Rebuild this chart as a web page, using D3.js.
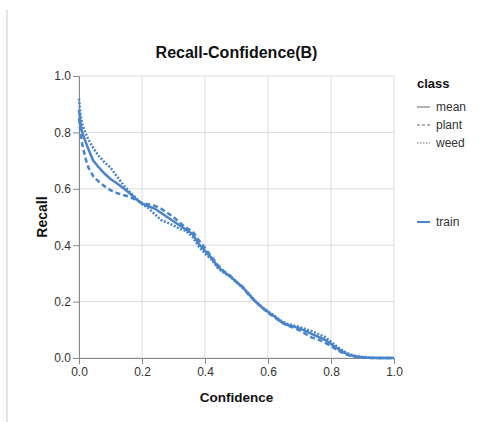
<!DOCTYPE html>
<html>
<head>
<meta charset="utf-8">
<script src="https://cdn.jsdelivr.net/npm/d3@7"></script>
<style>
  body { margin: 0; background: #fff; font-family: "Liberation Sans", Helvetica, Arial, sans-serif; }
  .tick text { font-size: 12px; fill: #333; }
</style>
</head>
<body>
<script>
// Chart data
var confidence = [0, 0.005, 0.01, 0.02, 0.03, 0.045, 0.06, 0.08, 0.1, 0.12, 0.14, 0.16, 0.18, 0.2,
  0.22, 0.24, 0.26, 0.28, 0.3, 0.32, 0.34, 0.36, 0.38, 0.4, 0.42, 0.44, 0.46, 0.48, 0.5, 0.52,
  0.54, 0.56, 0.58, 0.6, 0.62, 0.64, 0.66, 0.68, 0.7, 0.72, 0.74, 0.76, 0.78, 0.8, 0.82, 0.84,
  0.86, 0.88, 0.9, 0.92, 0.95, 1.0];

var recallMean = [0.88, 0.83, 0.80, 0.77, 0.74, 0.70, 0.68, 0.655, 0.635, 0.62, 0.603, 0.585, 0.565, 0.548,
  0.538, 0.53, 0.515, 0.5, 0.485, 0.47, 0.455, 0.44, 0.405, 0.38, 0.355, 0.325, 0.305, 0.29, 0.27, 0.25,
  0.225, 0.2, 0.18, 0.163, 0.148, 0.13, 0.118, 0.112, 0.105, 0.095, 0.085, 0.075, 0.065, 0.05, 0.034, 0.02,
  0.01, 0.005, 0.003, 0.001, 0, 0];

var recallPlant = [0.85, 0.80, 0.76, 0.71, 0.675, 0.645, 0.628, 0.61, 0.595, 0.585, 0.578, 0.572, 0.56, 0.55,
  0.545, 0.54, 0.53, 0.515, 0.5, 0.48, 0.462, 0.45, 0.418, 0.39, 0.36, 0.33, 0.308, 0.292, 0.27, 0.252,
  0.222, 0.2, 0.18, 0.16, 0.145, 0.128, 0.115, 0.108, 0.098, 0.085, 0.072, 0.065, 0.055, 0.042, 0.028, 0.016,
  0.008, 0.004, 0.002, 0, 0, 0];

var recallWeed = [0.92, 0.86, 0.83, 0.80, 0.775, 0.745, 0.72, 0.695, 0.675, 0.645, 0.615, 0.59, 0.568, 0.545,
  0.532, 0.51, 0.49, 0.48, 0.47, 0.458, 0.45, 0.43, 0.395, 0.37, 0.35, 0.32, 0.302, 0.288, 0.268, 0.248,
  0.228, 0.202, 0.182, 0.165, 0.15, 0.133, 0.122, 0.116, 0.11, 0.102, 0.095, 0.085, 0.075, 0.058, 0.04, 0.024,
  0.013, 0.007, 0.004, 0.002, 0, 0];

var classNames = ["mean", "plant", "weed"];
var runNames = ["train"];
var tickValues = [0, 0.2, 0.4, 0.6, 0.8, 1.0];

var svgWidth = 493;
var svgHeight = 422;
var margin = { top: 76, left: 79 };
var chartWidth = 315;
var chartHeight = 282;
var blue = "#4a84cc";
var dashes = { mean: null, plant: "5,3", weed: "2,1.6" };

var svg = d3.select("body").append("svg")
  .attr("width", svgWidth)
  .attr("height", svgHeight);

// left border of the panel
svg.append("line")
  .attr("x1", 7).attr("x2", 7)
  .attr("y1", 10).attr("y2", svgHeight)
  .attr("stroke", "#ddd")
  .attr("stroke-width", 1.5);

var chartGroup = svg.append("g")
  .attr("transform", `translate(${margin.left}, ${margin.top})`);

var xScale = d3.scaleLinear().domain([0, 1]).range([0, chartWidth]);
var yScale = d3.scaleLinear().domain([0, 1]).range([chartHeight, 0]);

// grid
chartGroup.append("g")
  .selectAll("line.vgrid")
  .data(tickValues)
  .enter().append("line")
  .attr("x1", d => xScale(d)).attr("x2", d => xScale(d))
  .attr("y1", 0).attr("y2", chartHeight)
  .attr("stroke", "#ddd");

chartGroup.append("g")
  .selectAll("line.hgrid")
  .data(tickValues)
  .enter().append("line")
  .attr("x1", 0).attr("x2", chartWidth)
  .attr("y1", d => yScale(d)).attr("y2", d => yScale(d))
  .attr("stroke", "#ddd");

// axes
var bottomAxis = d3.axisBottom(xScale).tickValues(tickValues).tickFormat(d3.format(".1f")).tickSize(6).tickPadding(3);
var leftAxis = d3.axisLeft(yScale).tickValues(tickValues).tickFormat(d3.format(".1f")).tickSize(6).tickPadding(2);

var xAxisG = chartGroup.append("g")
  .attr("transform", `translate(0, ${chartHeight})`)
  .call(bottomAxis);
var yAxisG = chartGroup.append("g").call(leftAxis);

[xAxisG, yAxisG].forEach(function(g) {
  g.select(".domain").attr("stroke", "#888");
  g.selectAll(".tick line").attr("stroke", "#888");
  g.selectAll(".tick text").style("font-family", "Liberation Sans, Arial, sans-serif");
});

// lines
var series = [
  { name: "mean", values: recallMean },
  { name: "plant", values: recallPlant },
  { name: "weed", values: recallWeed }
];

var line = d3.line()
  .x((d, i) => xScale(confidence[i]))
  .y(d => yScale(d));

chartGroup.selectAll(".curve")
  .data(series)
  .enter()
  .append("path")
  .attr("class", "curve")
  .attr("d", d => line(d.values))
  .attr("fill", "none")
  .attr("stroke", blue)
  .attr("stroke-width", 2.5)
  .attr("stroke-dasharray", d => dashes[d.name]);

// title and axis titles
svg.append("text")
  .attr("x", margin.left + chartWidth / 2)
  .attr("y", 58)
  .attr("text-anchor", "middle")
  .style("font-size", "16px")
  .style("font-weight", "bold")
  .attr("fill", "#111")
  .text("Recall-Confidence(B)");

svg.append("text")
  .attr("x", margin.left + chartWidth / 2)
  .attr("y", 402)
  .attr("text-anchor", "middle")
  .style("font-size", "13.5px")
  .style("font-weight", "bold")
  .attr("fill", "#111")
  .text("Confidence");

svg.append("text")
  .attr("transform", `translate(47, ${margin.top + chartHeight / 2}) rotate(-90)`)
  .attr("text-anchor", "middle")
  .style("font-size", "14px")
  .style("font-weight", "bold")
  .attr("fill", "#111")
  .text("Recall");

// legend
var legend = svg.append("g").attr("transform", "translate(417, 0)");

legend.append("text")
  .attr("x", 0).attr("y", 88)
  .style("font-size", "13px")
  .style("font-weight", "bold")
  .attr("fill", "#111")
  .text("class");

var classItems = legend.selectAll(".class-item")
  .data(classNames)
  .enter().append("g")
  .attr("transform", (d, i) => `translate(0, ${107 + i * 18})`);

classItems.append("line")
  .attr("x1", 0).attr("x2", 13)
  .attr("stroke", "#999")
  .attr("stroke-width", 1.5)
  .attr("stroke-dasharray", d => d === "plant" ? "3,2" : d === "weed" ? "1.5,1.5" : null);

classItems.append("text")
  .attr("x", 19).attr("y", 4)
  .style("font-size", "12px")
  .attr("fill", "#333")
  .text(d => d);

var runItems = legend.selectAll(".run-item")
  .data(runNames)
  .enter().append("g")
  .attr("transform", (d, i) => `translate(0, ${222 + i * 18})`);

runItems.append("line")
  .attr("x1", 0).attr("x2", 13)
  .attr("stroke", blue)
  .attr("stroke-width", 2);

runItems.append("text")
  .attr("x", 19).attr("y", 4)
  .style("font-size", "12px")
  .attr("fill", "#333")
  .text(d => d);
</script>
</body>
</html>
